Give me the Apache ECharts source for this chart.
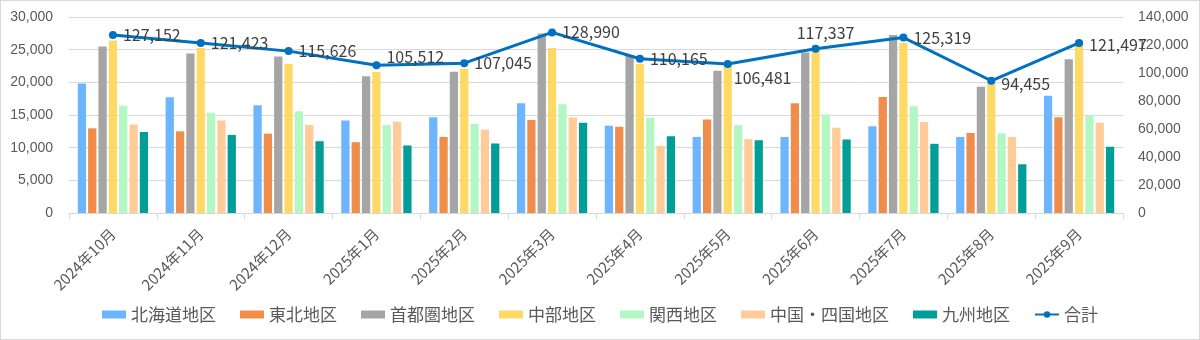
<!DOCTYPE html>
<html>
<head>
<meta charset="utf-8">
<script src="https://cdn.jsdelivr.net/npm/echarts@6/dist/echarts.min.js"></script>
<style>
html,body{margin:0;padding:0;background:#fff;}
#c{width:1200px;height:340px;box-sizing:border-box;border:1px solid #D9D9D9;}
</style>
</head>
<body>
<div id="c"></div>
<script>
const categories = ['2024年10月','2024年11月','2024年12月','2025年1月','2025年2月','2025年3月','2025年4月','2025年5月','2025年6月','2025年7月','2025年8月','2025年9月'];
const hokkaido = [19820, 17700, 16490, 14170, 14670, 16790, 13360, 11650, 11650, 13260, 11650, 17950];
const tohoku   = [12960, 12500, 12150, 10840, 11650, 14220, 13210, 14320, 16790, 17750, 12250, 14670];
const shutoken = [25500, 24400, 23950, 20930, 21630, 27480, 24050, 21780, 24560, 27230, 19310, 23550];
const chubu    = [26400, 25260, 22790, 21580, 22090, 25260, 22840, 22830, 24910, 26070, 19930, 26400];
const kansai   = [16400, 15330, 15580, 13460, 13620, 16640, 14570, 13460, 15080, 16340, 12200, 14830];
const chushikoku = [13560, 14170, 13460, 13970, 12760, 14620, 10290, 11300, 13060, 13920, 11650, 13820];
const kyushu   = [12400, 11950, 10990, 10340, 10640, 13820, 11750, 11140, 11250, 10590, 7460, 10140];
const total    = [127152, 121423, 115626, 105512, 107045, 128990, 110165, 106481, 117337, 125319, 94455, 121497];
const leftTicks = {min: 0, max: 30000, interval: 5000};
const rightTicks = {min: 0, max: 140000, interval: 20000};

const seriesNames = ['北海道地区','東北地区','首都圏地区','中部地区','関西地区','中国・四国地区','九州地区'];
const seriesData = [hokkaido, tohoku, shutoken, chubu, kansai, chushikoku, kyushu];
const colors = ['#6DB5FF','#F08D4B','#A5A5A5','#FFD966','#B3F7C4','#FFCC99','#009E96'];
const lineColor = '#0070C0';

// label placement tweaks per point (style only)
const labelTweaks = {
  3: {position:'right', offset:[0,-8]},
  7: {position:'right', offset:[-4,14]},
  8: {position:'top', offset:[10,2]},
  10: {position:'right', offset:[0,3]},
  11: {position:'right', offset:[0,2]}
};

const font = '"Noto Sans CJK JP","Noto Sans",sans-serif';
const chart = echarts.init(document.getElementById('c'));

const series = seriesNames.map((n,i)=>({
  name: n, type: 'bar', yAxisIndex: 0,
  data: seriesData[i],
  itemStyle: {color: colors[i]},
  barGap: '25%', barCategoryGap: '20%'
}));
series.push({
  name: '合計', type: 'line', yAxisIndex: 1,
  data: total.map((v,i)=> labelTweaks[i] ? {value:v, label: labelTweaks[i]} : v),
  lineStyle: {color: lineColor, width: 3},
  itemStyle: {color: lineColor},
  symbol: 'circle', symbolSize: 8,
  z: 10,
  label: {
    show: true, position: 'right', distance: 6,
    color: '#404040', fontSize: 16, fontFamily: font,
    formatter: p => p.value.toLocaleString('en-US')
  }
});

chart.setOption({
  animation: false,
  textStyle: {fontFamily: font},
  grid: {left: 68, right: 76, top: 16, bottom: 126, containLabel: false},
  legend: {
    bottom: 11, left: 'center',
    itemWidth: 24, itemHeight: 8, itemGap: 24,
    textStyle: {color: '#595959', fontSize: 17, fontFamily: font},
    data: seriesNames.map(n=>({name:n, icon:'rect'})).concat([{name:'合計'}])
  },
  xAxis: {
    type: 'category', data: categories,
    axisLine: {lineStyle: {color: '#D9D9D9'}},
    axisTick: {show: true, length: 6, lineStyle: {color: '#D9D9D9'}},
    axisLabel: {interval: 0, rotate: 45, color: '#595959', fontSize: 15, margin: 18, fontFamily: font}
  },
  yAxis: [
    {
      type: 'value', min: leftTicks.min, max: leftTicks.max, interval: leftTicks.interval,
      axisLine: {show: false}, axisTick: {show: false},
      splitLine: {lineStyle: {color: '#D9D9D9'}},
      axisLabel: {color: '#595959', fontSize: 14, margin: 16, formatter: v => v.toLocaleString('en-US'), fontFamily: '"Liberation Sans",sans-serif'}
    },
    {
      type: 'value', min: rightTicks.min, max: rightTicks.max, interval: rightTicks.interval,
      axisLine: {show: false}, axisTick: {show: false},
      splitLine: {show: false},
      axisLabel: {color: '#595959', fontSize: 14, margin: 15, formatter: v => v.toLocaleString('en-US'), fontFamily: '"Liberation Sans",sans-serif'}
    }
  ],
  series: series
});
</script>
</body>
</html>
